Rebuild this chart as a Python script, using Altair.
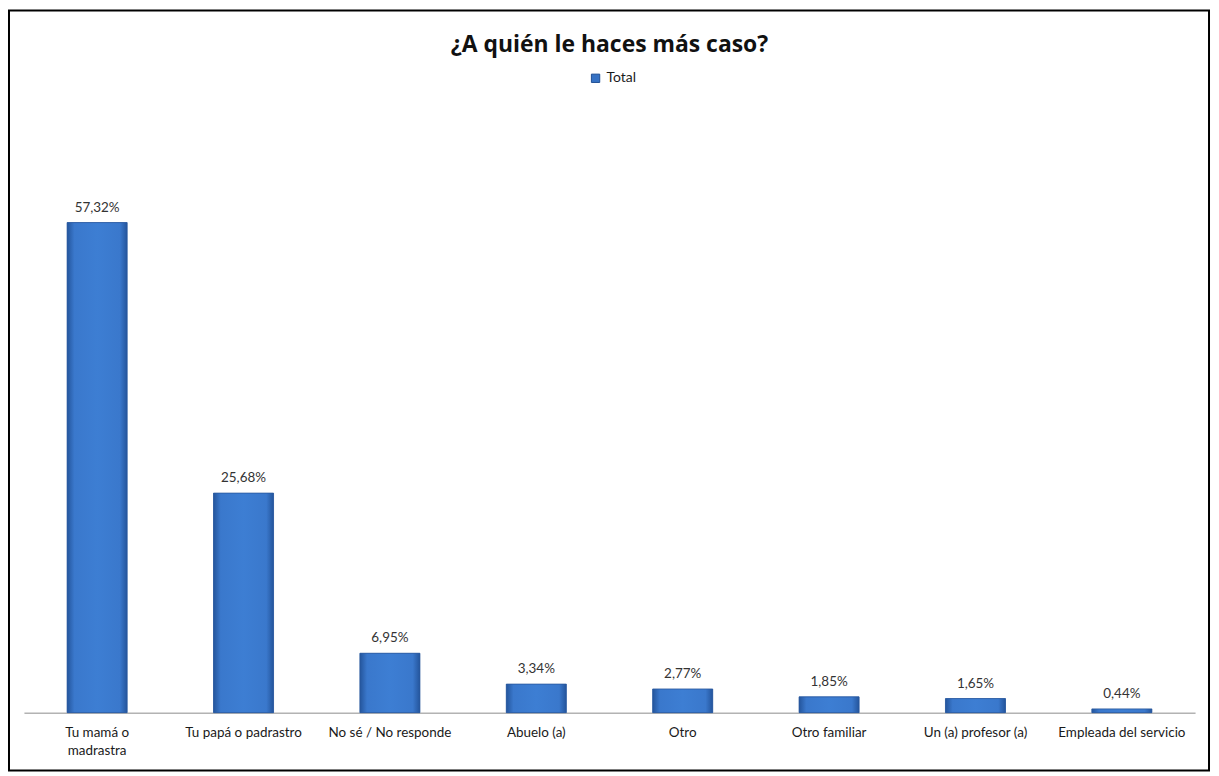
import altair as alt
import pandas as pd

categories = ["Tu mamá o|madrastra", "Tu papá  o padrastro", "No sé / No responde",
              "Abuelo (a)", "Otro", "Otro familiar", "Un (a) profesor (a)",
              "Empleada del servicio"]
values = [57.32, 25.68, 6.95, 3.34, 2.77, 1.85, 1.65, 0.44]
series = ["Total"] * len(values)

df = pd.DataFrame({
    "cat": categories,
    "val": values,
    "serie": series,
    "lbl": [f"{v:.2f}".replace(".", ",") + "%" for v in values],
})

W, H = 1176, 601
FONT = "Lato"

x = alt.X("cat:N", sort=categories, title=None,
          scale=alt.Scale(paddingInner=0.59, paddingOuter=0.295),
          axis=alt.Axis(labelAngle=0, labelExpr="split(datum.value, '|')",
                        labelFont=FONT, labelFontSize=13.5, labelColor="#1a1a1a",
                        labelPadding=13, labelLineHeight=18, ticks=False,
                        domainColor="#8c8c8c", domainWidth=1, labelLimit=200))
y = alt.Y("val:Q", title=None, scale=alt.Scale(domain=[0, 70], nice=False),
          axis=None)

base = alt.Chart(df)

legend_bars = base.mark_bar().encode(
    x=x, y=y,
    color=alt.Color("serie:N", title=None,
                    scale=alt.Scale(domain=["Total"], range=["#3672c4"]),
                    legend=alt.Legend(orient="none", legendX=567, legendY=-43,
                                      symbolType="square", symbolSize=70,
                                      symbolStrokeColor="#1f4f94", symbolStrokeWidth=1,
                                      labelFont=FONT, labelFontSize=14,
                                      labelColor="#1a1a1a")),
)

grad = alt.Gradient(
    gradient="linear", x1=0, x2=1, y1=0, y2=0,
    stops=[alt.GradientStop(color="#24559c", offset=0),
           alt.GradientStop(color="#3a78cc", offset=0.12),
           alt.GradientStop(color="#3d7ed3", offset=0.5),
           alt.GradientStop(color="#3a78cc", offset=0.88),
           alt.GradientStop(color="#24559c", offset=1)],
)
bars = base.mark_bar(fill=grad, stroke="#28579c", strokeWidth=0.8).encode(x=x, y=y)

labels = base.mark_text(baseline="bottom", dy=-8, font=FONT, fontSize=13.5,
                        color="#333333").encode(x=x, y=y, text="lbl:N")

frame = alt.Chart(pd.DataFrame({"k": [0]})).mark_rect(
    filled=False, stroke="#000000", strokeWidth=2
).encode(x=alt.value(-15), x2=alt.value(1190), y=alt.value(-104), y2=alt.value(659))

chart = alt.layer(frame, legend_bars, bars, labels).properties(
    width=W, height=H,
    autosize=alt.AutoSizeParams(type="none"),
    padding={"left": 16, "top": 105, "right": 16, "bottom": 60},
    title=alt.Title("¿A quién le haces más caso?", font="Open Sans", fontSize=23,
                    fontWeight="bold", color="#111111", anchor="middle",
                    offset=0, dy=48),
).configure(background="white").configure_view(stroke="transparent", strokeWidth=0)

chart.save("out.html", embed_options={"renderer": "svg", "actions": False})
